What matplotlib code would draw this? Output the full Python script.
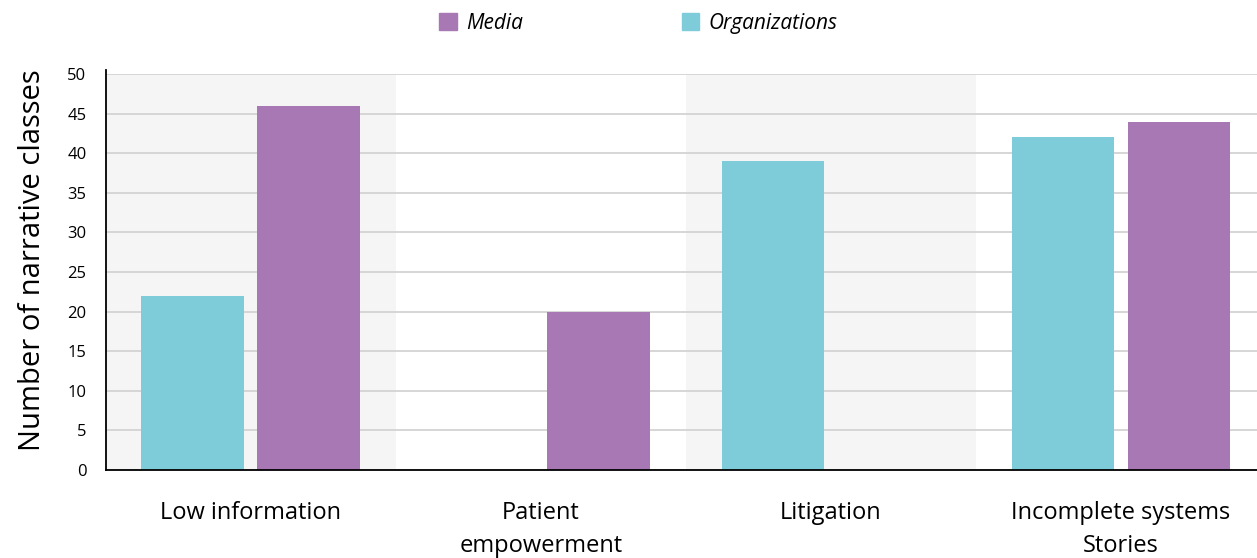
import numpy as np
import matplotlib.pyplot as plt
from matplotlib.patches import Patch

plt.rcParams['font.family'] = ['Open Sans', 'DejaVu Sans']

categories = ['Low information', 'Patient\nempowerment', 'Litigation', 'Incomplete systems\nStories']
organizations = [22, 0, 39, 42]
media = [46, 20, 0, 44]

CYAN = '#7ecbd9'
PURPLE = '#a878b5'

fig = plt.figure(figsize=(12.57, 5.58), dpi=100)
ax = fig.add_axes([0.0843, 0.1577, 0.9157, 0.7097])

x = np.arange(len(categories))
width = 0.355

# alternating shaded bands
for i in x:
    if i % 2 == 0:
        ax.axvspan(i - 0.5, i + 0.5, color='#f5f5f5', zorder=0, lw=0)

ax.set_axisbelow(True)
ax.yaxis.grid(True, color='#d3d3d3', linewidth=1.3)

ax.bar(x - 0.2, organizations, width, color=CYAN, zorder=2)
ax.bar(x + 0.2, media, width, color=PURPLE, zorder=2)

ax.set_xlim(-0.5, 3.469)
ax.set_ylim(0, 50)
ax.set_yticks(np.arange(0, 51, 5))
ax.set_xticks(x)
ax.set_xticklabels(categories, fontsize=17, linespacing=1.55)
ax.tick_params(axis='x', length=0, pad=22)
ax.tick_params(axis='y', length=0, labelsize=12, pad=14)
ax.set_ylabel('Number of narrative classes', fontsize=21)
ax.yaxis.set_label_coords(-0.051, 0.53)

for s in ['top', 'right']:
    ax.spines[s].set_visible(False)
ax.spines['left'].set_linewidth(1.3)
ax.spines['bottom'].set_linewidth(1.3)
ax.spines['left'].set_bounds(0, 50.5)

handles = [Patch(color=PURPLE, label='Media'), Patch(color=CYAN, label='Organizations')]
fig.legend(handles=handles, loc='center', bbox_to_anchor=(0.508, 0.958), ncol=2,
           frameon=False, prop={'style': 'italic', 'size': 15},
           handlelength=0.85, handleheight=0.85, columnspacing=7.6, handletextpad=0.45)

plt.savefig('out.png', dpi=100)
